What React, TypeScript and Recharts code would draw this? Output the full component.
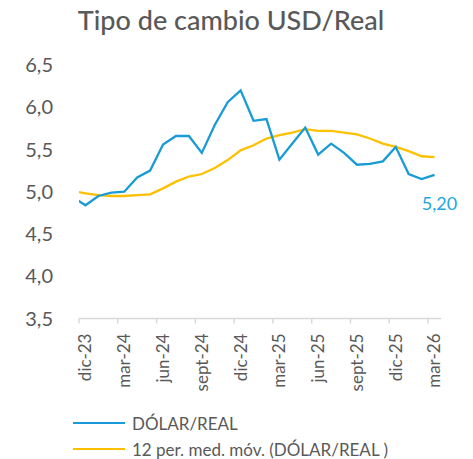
import React from "react";
import { LineChart, Line, XAxis, YAxis, LabelList } from "recharts";

// nov-23 is only there so the line enters from the left edge (clipped)
const months = [
  "nov-23", "dic-23", "ene-24", "feb-24", "mar-24", "abr-24", "may-24", "jun-24",
  "jul-24", "ago-24", "sept-24", "oct-24", "nov-24", "dic-24", "ene-25", "feb-25",
  "mar-25", "abr-25", "may-25", "jun-25", "jul-25", "ago-25", "sept-25", "oct-25",
  "nov-25", "dic-25", "ene-26", "feb-26", "mar-26"
];

const dolarReal = [
  4.94, 4.84, 4.95, 4.99, 5.0, 5.17, 5.25, 5.56, 5.66, 5.66, 5.46, 5.79, 6.06, 6.2,
  5.84, 5.86, 5.38, 5.57, 5.76, 5.44, 5.57, 5.46, 5.32, 5.33, 5.36, 5.53, 5.21, 5.15, 5.2
];

const mediaMovil = [
  5.01, 4.98, 4.96, 4.95, 4.95, 4.96, 4.97, 5.04, 5.12, 5.18, 5.21, 5.28, 5.375, 5.49,
  5.55, 5.63, 5.67, 5.7, 5.74, 5.72, 5.72, 5.7, 5.68, 5.63, 5.57, 5.53, 5.48, 5.42, 5.41
];

const yTicks = [3.5, 4, 4.5, 5, 5.5, 6, 6.5];

const data = months.map((m, i) => ({
  i: i - 1,
  mes: m,
  dolar: dolarReal[i],
  media: mediaMovil[i]
}));

const labelIdx = [0, 3, 6, 9, 12, 15, 18, 21, 24, 27];
const boundaryTicks = labelIdx.map((v) => v - 0.5);

const FONT = "Lato, 'Noto Sans', sans-serif";
const GREY = "#595959";
const BLUE = "#189BD7";
const GOLD = "#FFC000";
const AXIS = "#D9D9D9";

const fmt = (v: number) => v.toFixed(1).replace(".", ",");

function MonthTick(props: any) {
  const { x, y, payload } = props;
  const m = months[payload.value + 1];
  const ty = y + 12;
  return (
    <text
      x={x}
      y={ty}
      transform={`rotate(-90 ${x} ${ty})`}
      textAnchor="end"
      dy="0.35em"
      fontSize={17}
      fontFamily={FONT}
      fill={GREY}
    >
      {m}
    </text>
  );
}

function LastLabel(props: any) {
  const { x, y, index, value } = props;
  if (index !== data.length - 1) return null;
  return (
    <text
      x={x + 5}
      y={y + 29}
      textAnchor="middle"
      dy="0.35em"
      fontSize={18}
      fontFamily={FONT}
      fill="#1EA7E1"
    >
      {value.toFixed(2).replace(".", ",")}
    </text>
  );
}

export default function App() {
  return (
    <div style={{ position: "absolute", left: 0, top: 0, width: 473, height: 459, background: "#fff" }}>
      <div
        style={{
          position: "absolute",
          left: 0,
          width: 462,
          top: 3,
          textAlign: "center",
          fontFamily: FONT,
          fontSize: 27,
          fontWeight: 500,
          color: GREY
        }}
      >
        Tipo de cambio USD/Real
      </div>
      <LineChart
        width={473}
        height={459}
        data={data}
        margin={{ top: 65, right: 32, left: 0, bottom: 80 }}
      >
        <XAxis
          xAxisId="lab"
          dataKey="i"
          type="number"
          domain={[-0.5, 27.5]}
          allowDataOverflow
          ticks={labelIdx}
          interval={0}
          height={59.5}
          axisLine={false}
          tickLine={false}
          tickSize={0}
          tick={<MonthTick />}
        />
        <XAxis
          xAxisId="a"
          dataKey="i"
          type="number"
          domain={[-0.5, 27.5]}
          allowDataOverflow
          ticks={boundaryTicks}
          interval={0}
          height={1}
          axisLine={{ stroke: AXIS, strokeWidth: 1.5 }}
          tickLine={{ stroke: AXIS, strokeWidth: 1.5 }}
          tickSize={5}
          tickFormatter={() => ""}
        />
        <YAxis
          domain={[3.5, 6.5]}
          ticks={yTicks}
          width={79}
          axisLine={false}
          tickLine={false}
          tickSize={0}
          tickMargin={26}
          tickFormatter={fmt}
          tick={{ fill: GREY, fontSize: 20, fontFamily: FONT }}
        />
        <Line
          xAxisId="lab"
          type="linear"
          dataKey="media"
          stroke={GOLD}
          strokeWidth={2.3}
          dot={false}
          isAnimationActive={false}
        />
        <Line
          xAxisId="lab"
          type="linear"
          dataKey="dolar"
          stroke={BLUE}
          strokeWidth={2.3}
          dot={false}
          isAnimationActive={false}
        >
          <LabelList dataKey="dolar" content={<LastLabel />} />
        </Line>
      </LineChart>
      <div style={{ position: "absolute", left: 73, top: 410, fontFamily: FONT, fontSize: 17, color: GREY }}>
        <div style={{ display: "flex", alignItems: "center", height: 26 }}>
          <span style={{ display: "inline-block", width: 52, height: 2.3, background: BLUE, marginRight: 7 }} />
          DÓLAR/REAL
        </div>
        <div style={{ display: "flex", alignItems: "center", height: 26 }}>
          <span style={{ display: "inline-block", width: 52, height: 2.3, background: GOLD, marginRight: 7 }} />
          12 per. med. móv. (DÓLAR/REAL )
        </div>
      </div>
    </div>
  );
}
